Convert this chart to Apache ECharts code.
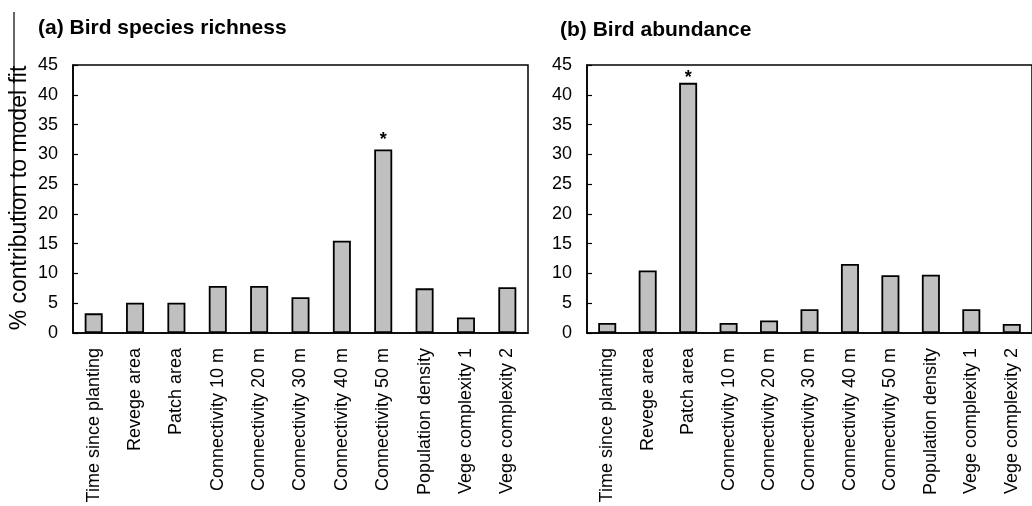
<!DOCTYPE html>
<html>
<head>
<meta charset="utf-8">
<script src="https://cdn.jsdelivr.net/npm/echarts@6/dist/echarts.min.js"></script>
<style>html,body{margin:0;padding:0;background:#fff}#c{width:1032px;height:506px}</style>
</head>
<body>
<div id="c"></div>
<script>
var categories = ['Time since planting','Revege area','Patch area','Connectivity 10 m','Connectivity 20 m','Connectivity 30 m','Connectivity 40 m','Connectivity 50 m','Population density','Vege complexity 1','Vege complexity 2'];
var richness = [3.3, 5.1, 5.1, 7.9, 7.9, 6.0, 15.5, 30.8, 7.5, 2.6, 7.7];
var abundance = [1.7, 10.5, 42.0, 1.7, 2.1, 4.0, 11.6, 9.7, 9.8, 4.0, 1.5];
var richnessStar = [0,0,0,0,0,0,0,1,0,0,0];
var abundanceStar = [0,0,1,0,0,0,0,0,0,0,0];
var yTicks = [0, 45, 5];
var titles = ['(a) Bird species richness', '(b) Bird abundance'];
var yName = '% contribution to model fit';

var FONT = 'Liberation Sans, Arial, sans-serif';
function mkData(vals, stars, dist) {
  return vals.map(function (v, i) {
    return stars[i] ? { value: v, label: { show: true, position: 'top', distance: dist, formatter: '*', fontSize: 18, fontWeight: 'bold', color: '#000', fontFamily: FONT } } : v;
  });
}
function xAxis(idx) {
  return {
    type: 'category', gridIndex: idx, data: categories,
    axisLine: { lineStyle: { color: '#000', width: 1.6 } },
    axisTick: { inside: true, length: 5, lineStyle: { color: '#000', width: 1.2 } },
    axisLabel: { rotate: 90, interval: 0, fontSize: 18, color: '#000', margin: 15, fontFamily: FONT },
    splitLine: { show: false }
  };
}
function yAxis(idx) {
  return {
    type: 'value', gridIndex: idx, min: yTicks[0], max: yTicks[1], interval: yTicks[2],
    axisLine: { show: true, lineStyle: { color: '#000', width: 1.6 } },
    axisTick: { show: true, inside: true, length: 5, lineStyle: { color: '#000', width: 1.2 } },
    axisLabel: { fontSize: 18, color: '#000', margin: 15, fontFamily: FONT },
    splitLine: { show: false }
  };
}
var barStyle = { color: '#c0c0c0', borderColor: '#000', borderWidth: 1.8 };
var chart = echarts.init(document.getElementById('c'), null, { renderer: 'canvas' });
chart.setOption({
  animation: false,
  backgroundColor: '#fff',
  title: [
    { text: titles[0], left: 33, top: 13, textStyle: { fontSize: 21, fontWeight: 'bold', color: '#000', fontFamily: FONT } },
    { text: titles[1], left: 555, top: 15, textStyle: { fontSize: 21, fontWeight: 'bold', color: '#000', fontFamily: FONT } }
  ],
  grid: [
    { left: 73, top: 65, width: 455, height: 268, show: true, borderColor: '#000', borderWidth: 1.5, backgroundColor: 'transparent' },
    { left: 587, top: 65, width: 454, height: 268, show: true, borderColor: '#000', borderWidth: 1.5, backgroundColor: 'transparent' }
  ],
  xAxis: [xAxis(0), xAxis(1)],
  yAxis: [yAxis(0), yAxis(1)],
  series: [
    { type: 'bar', xAxisIndex: 0, yAxisIndex: 0, barWidth: 18, itemStyle: barStyle, data: mkData(richness, richnessStar, 1) },
    { type: 'bar', xAxisIndex: 1, yAxisIndex: 1, barWidth: 18, itemStyle: barStyle, data: mkData(abundance, abundanceStar, -4) }
  ],
  graphic: [
    { type: 'text', x: 20, y: 198, rotation: Math.PI / 2, style: { text: yName, fontSize: 23, fill: '#000', font: '23px ' + FONT, align: 'center', verticalAlign: 'middle' } },
    { type: 'line', shape: { x1: 14, y1: 12, x2: 14, y2: 222 }, style: { stroke: '#000', lineWidth: 1.2 } }
  ]
});
</script>
</body>
</html>
